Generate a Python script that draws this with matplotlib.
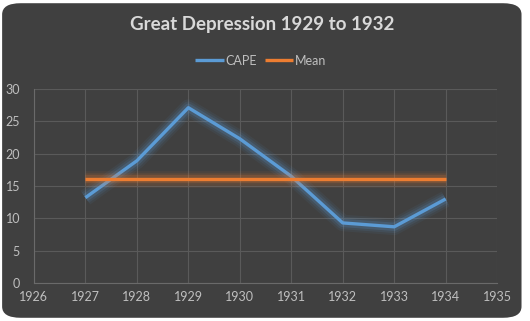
import matplotlib.pyplot as plt
import matplotlib.patheffects as pe
from matplotlib.patches import FancyBboxPatch

years = [1927, 1928, 1929, 1930, 1931, 1932, 1933, 1934]
cape = [13.2, 18.9, 27.1, 22.3, 16.5, 9.3, 8.7, 13.0]
mean_val = [16.1] * len(years)

x_ticks = list(range(1926, 1936))
y_ticks = [0, 5, 10, 15, 20, 25, 30]

bg = '#404040'
txt = '#d9d9d9'
blue = '#5b9bd5'
orange = '#ed7d31'

plt.rcParams['font.family'] = ['Lato', 'DejaVu Sans']

fig = plt.figure(figsize=(5.3, 3.21), dpi=100)
fig.patch.set_facecolor('white')

# chart area with rounded corners
card = FancyBboxPatch((0.004, 0.01), 0.98, 0.98, boxstyle='round,pad=0,rounding_size=0.035',
                      transform=fig.transFigure, facecolor=bg, edgecolor='none', zorder=-5)
fig.patches.append(card)

ax = fig.add_axes([0.064, 0.118, 0.874, 0.605])
ax.set_facecolor(bg)
ax.patch.set_alpha(0)


def glow(color):
    return [pe.Stroke(linewidth=12, foreground=color, alpha=0.07),
            pe.Stroke(linewidth=9, foreground=color, alpha=0.1),
            pe.Stroke(linewidth=6, foreground=color, alpha=0.18),
            pe.Normal()]


ax.plot(years, cape, color=blue, lw=2.4, label='CAPE', solid_capstyle='butt',
        path_effects=glow(blue), zorder=3)
ax.plot(years, mean_val, color=orange, lw=2.4, label='Mean', solid_capstyle='butt',
        path_effects=glow(orange), zorder=3)

ax.set_xlim(1926, 1935)
ax.set_ylim(0, 30)
ax.set_xticks(x_ticks)
ax.set_yticks(y_ticks)
ax.grid(True, color='#5a5a5a', lw=0.8)
ax.set_axisbelow(True)
for s in ['top', 'right']:
    ax.spines[s].set_visible(False)
for s in ['left', 'bottom']:
    ax.spines[s].set_color('#6a6a6a')
    ax.spines[s].set_linewidth(0.8)
ax.tick_params(colors='#bfbfbf', labelsize=9, length=0, pad=6)
ax.tick_params(axis='y', pad=10)

fig.text(0.495, 0.925, 'Great Depression 1929 to 1932', ha='center', va='center',
         fontsize=13.5, fontweight='bold', color=txt)

leg = ax.legend(loc='center', bbox_to_anchor=(0.49, 1.145), ncol=2, frameon=False,
                fontsize=9, handlelength=2.3, handletextpad=0.15, columnspacing=0.6)
for t in leg.get_texts():
    t.set_color('#bfbfbf')
for h in leg.legend_handles:
    h.set_path_effects([])

fig.savefig('out.png', dpi=100, facecolor='white')
